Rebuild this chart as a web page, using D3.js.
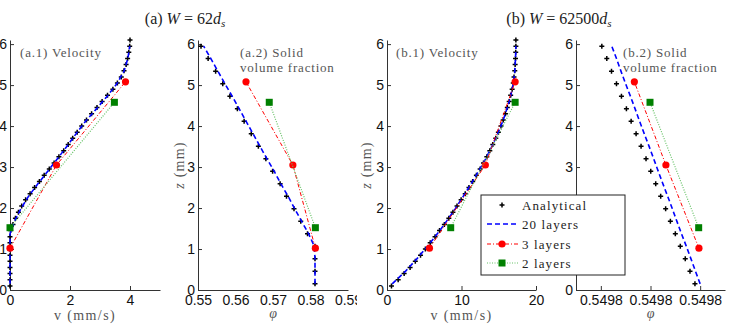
<!DOCTYPE html>
<html>
<head>
<meta charset="utf-8">
<script src="https://cdn.jsdelivr.net/npm/d3@7"></script>
<style>
  body { margin: 0; background: #fff; }
  .tick text { font-family: "Liberation Sans", Arial, sans-serif; font-size: 14px; fill: #111; }
  .serif { font-family: "Liberation Serif", "DejaVu Serif", serif; }
</style>
</head>
<body>
<script>
// heights (mm)
const zTicks = [0, 1, 2, 3, 4, 5, 6];
const zDense = [0.1, 0.25, 0.4, 0.55, 0.7, 0.85, 1.0, 1.15, 1.3, 1.45, 1.6, 1.75, 1.9, 2.05, 2.2, 2.35,
  2.5, 2.65, 2.8, 2.95, 3.1, 3.25, 3.4, 3.55, 3.7, 3.85, 4.0, 4.15, 4.3, 4.45, 4.6, 4.75, 4.9,
  5.05, 5.2, 5.35, 5.5, 5.65, 5.8, 5.95, 6.1];
const z20 = [0.15, 0.46, 0.76, 1.07, 1.37, 1.68, 1.98, 2.29, 2.59, 2.9, 3.2, 3.51, 3.81, 4.12,
  4.42, 4.73, 5.03, 5.34, 5.65, 5.95];
const z3 = [1.02, 3.05, 5.08];
const z2 = [1.52, 4.58];

// (a) W = 62 ds
const vTicksA = [0, 2, 4];
const vAnaA = [0, 0, 0, 0, 0, 0, 0, 0, 0, 0.02, 0.1, 0.18, 0.28, 0.39, 0.52, 0.67, 0.82, 0.98, 1.14,
  1.31, 1.47, 1.63, 1.79, 1.94, 2.09, 2.24, 2.39, 2.55, 2.72, 2.9, 3.07, 3.25, 3.43, 3.58, 3.71,
  3.8, 3.87, 3.92, 3.96, 3.99, 4.0];
const v20A = [0, 0, 0, 0, 0, 0.15, 0.36, 0.62, 0.93, 1.26, 1.58, 1.9, 2.2, 2.52, 2.88, 3.24,
  3.56, 3.8, 3.93, 3.99];
const v3A = [0, 1.55, 3.85];
const v2A = [0, 3.48];
const phiTicksA = [0.55, 0.56, 0.57, 0.58, 0.59];
const phiAnaA = [0.5812, 0.5812, 0.5812, 0.5812, 0.5792, 0.5774, 0.5756, 0.5736, 0.5719, 0.5699,
  0.5681, 0.5661, 0.5642, 0.5623, 0.5605, 0.5585, 0.5566, 0.5547, 0.5527, 0.5508];
const phi20A = [0.5812, 0.5812, 0.5812, 0.5810, 0.5795, 0.5776, 0.5758, 0.5740, 0.5721, 0.5703,
  0.5684, 0.5665, 0.5647, 0.5628, 0.5610, 0.5591, 0.5572, 0.5553, 0.5534, 0.5515];
const phi3A = [0.5813, 0.5753, 0.5628];
const phi2A = [0.5813, 0.5690];

// (b) W = 62500 ds
const vTicksB = [0, 10, 20];
const vAnaB = [0.6, 1.5, 2.3, 3.1, 3.8, 4.5, 5.15, 5.8, 6.45, 7.05, 7.7, 8.3, 8.85, 9.4, 9.95, 10.5,
  11.0, 11.5, 12.0, 12.5, 12.95, 13.4, 13.8, 14.2, 14.6, 14.95, 15.3, 15.6, 15.9, 16.15, 16.4,
  16.6, 16.8, 16.95, 17.05, 17.15, 17.2, 17.25, 17.28, 17.3, 17.3];
const v20B = [0.7, 2.5, 4.0, 5.45, 6.75, 8.0, 9.15, 10.25, 11.3, 12.3, 13.25, 14.1, 14.85, 15.55,
  16.1, 16.6, 16.95, 17.15, 17.25, 17.3];
const v3B = [5.7, 13.2, 17.2];
const v2B = [8.55, 17.2];
const phiTicksB = [0.54977, 0.54979, 0.54981];
const phiAnaB = [0.5498079, 0.5498059, 0.5498040, 0.5498020, 0.5498000, 0.5497980, 0.5497961,
  0.5497941, 0.5497921, 0.5497901, 0.5497882, 0.5497862, 0.5497842, 0.5497822, 0.5497803,
  0.5497783, 0.5497763, 0.5497743, 0.5497724, 0.5497704];
const phi20B = [0.5498100, 0.5498081, 0.5498063, 0.5498044, 0.5498025, 0.5498006, 0.5497988,
  0.5497969, 0.5497950, 0.5497931, 0.5497913, 0.5497894, 0.5497875, 0.5497856, 0.5497838,
  0.5497819, 0.5497800, 0.5497781, 0.5497763, 0.5497744];
const phi3B = [0.5498095, 0.5497962, 0.5497835];
const phi2B = [0.5498094, 0.5497898];

const legendLabels = ['Analytical', '20 layers', '3 layers', '2 layers'];

const BLUE = '#0000ff', RED = '#ff0000', GREEN = '#008000', GREEN_LINE = '#66c266';

const svg = d3.select('body').append('svg')
  .attr('width', 732).attr('height', 330);

svg.append('defs').append('clipPath').attr('id', 'clipA2')
  .append('rect').attr('x', 150).attr('y', 0).attr('width', 207).attr('height', 330);

const y = d3.scaleLinear().domain([0, 6.1]).range([290, 40]);
const pts = (xs, zs) => xs.map((v, i) => [v, zs[i]]);
const plusPath = 'M-2.5,0H2.5M0,-2.5V2.5';

function drawPanel(p) {
  const x = d3.scaleLinear().domain(p.domain).range(p.range);
  const g = svg.append('g');

  const xa = g.append('g')
    .attr('transform', 'translate(0,290)')
    .call(d3.axisBottom(x).tickValues(p.ticks).tickFormat(p.fmt)
      .tickSizeInner(-4).tickSizeOuter(0).tickPadding(5));
  if (p.clip) xa.attr('clip-path', `url(#${p.clip})`);
  g.append('g')
    .attr('transform', `translate(${p.range[0]},0)`)
    .call(d3.axisLeft(y).tickValues(zTicks).tickFormat(d3.format('d'))
      .tickSizeInner(-4).tickSizeOuter(0).tickPadding(3));
  g.selectAll('.domain, .tick line').attr('stroke', '#333');

  const line = d3.line().x(d => x(d[0])).y(d => y(d[1]));

  // analytical
  g.selectAll('path.ana').data(pts(p.ana, p.anaZ)).enter()
    .append('path').attr('class', 'ana')
    .attr('d', plusPath)
    .attr('transform', d => `translate(${x(d[0])},${y(d[1])})`)
    .attr('stroke', '#000').attr('stroke-width', 1.5);

  // 20 layers
  g.append('path').datum(pts(p.l20, z20))
    .attr('d', line).attr('fill', 'none')
    .attr('stroke', BLUE).attr('stroke-width', 1.6).attr('stroke-dasharray', '5,3');

  // 3 layers
  g.append('path').datum(pts(p.l3, z3))
    .attr('d', line).attr('fill', 'none')
    .attr('stroke', RED).attr('stroke-width', 1).attr('stroke-dasharray', '4,2,1,2');
  g.selectAll('circle.l3').data(pts(p.l3, z3)).enter()
    .append('circle').attr('class', 'l3')
    .attr('cx', d => x(d[0])).attr('cy', d => y(d[1])).attr('r', 3.6)
    .attr('fill', RED);

  // 2 layers
  g.append('path').datum(pts(p.l2, z2))
    .attr('d', line).attr('fill', 'none')
    .attr('stroke', GREEN_LINE).attr('stroke-width', 1.2).attr('stroke-dasharray', '1,1.5');
  g.selectAll('rect.l2').data(pts(p.l2, z2)).enter()
    .append('rect').attr('class', 'l2')
    .attr('x', d => x(d[0]) - 3.5).attr('y', d => y(d[1]) - 3.5)
    .attr('width', 7).attr('height', 7)
    .attr('fill', GREEN);

  // panel note
  const note = g.append('text').attr('class', 'serif')
    .attr('x', p.noteX).attr('y', 57)
    .attr('font-size', 13).attr('letter-spacing', 0.8).attr('fill', '#555');
  p.note.forEach((t, i) => note.append('tspan')
    .attr('x', p.noteX).attr('dy', i ? 15 : 0).text(t));

  // x label
  const mid = (p.range[0] + p.range[1]) / 2;
  if (p.xLabel === 'phi') {
    g.append('text').attr('class', 'serif')
      .attr('x', mid).attr('y', 318).attr('text-anchor', 'middle')
      .attr('font-size', 14).attr('font-style', 'italic').attr('fill', '#555')
      .text('φ');
  } else {
    g.append('text').attr('class', 'serif')
      .attr('x', mid).attr('y', 320).attr('text-anchor', 'middle')
      .attr('font-size', 14).attr('letter-spacing', 1.4).attr('fill', '#555')
      .text(p.xLabel);
  }

  if (p.yLabelX) {
    const yl = g.append('text').attr('class', 'serif')
      .attr('transform', `translate(${p.yLabelX},165) rotate(-90)`)
      .attr('text-anchor', 'middle').attr('font-size', 14)
      .attr('letter-spacing', 1.2).attr('fill', '#555');
    yl.append('tspan').attr('font-style', 'italic').text('z');
    yl.append('tspan').text(' (mm)');
  }
}

drawPanel({ domain: [0, 5], range: [10, 160], ticks: vTicksA, fmt: d3.format('d'),
  ana: vAnaA, anaZ: zDense, l20: v20A, l3: v3A, l2: v2A,
  note: ['(a.1) Velocity'], noteX: 20, xLabel: 'v (mm/s)' });
drawPanel({ domain: [0.55, 0.59], range: [198, 348], ticks: phiTicksA, fmt: d3.format('.2f'),
  ana: phiAnaA, anaZ: z20, l20: phi20A, l3: phi3A, l2: phi2A, clip: 'clipA2',
  note: ['(a.2) Solid', 'volume fraction'], noteX: 240, xLabel: 'phi', yLabelX: 184 });
drawPanel({ domain: [0, 20], range: [387, 536], ticks: vTicksB, fmt: d3.format('d'),
  ana: vAnaB, anaZ: zDense, l20: v20B, l3: v3B, l2: v2B,
  note: ['(b.1) Velocity'], noteX: 396, xLabel: 'v (mm/s)', yLabelX: 371 });
drawPanel({ domain: [0.54976, 0.54982], range: [576, 725], ticks: phiTicksB, fmt: d3.format('.4f'),
  ana: phiAnaB, anaZ: z20, l20: phi20B, l3: phi3B, l2: phi2B,
  note: ['(b.2) Solid', 'volume fraction'], noteX: 623, xLabel: 'phi' });

// titles
function title(cx, label, w) {
  const t = svg.append('text').attr('class', 'serif')
    .attr('x', cx).attr('y', 24).attr('text-anchor', 'middle')
    .attr('font-size', 16).attr('fill', '#222');
  t.append('tspan').text(label + ' ');
  t.append('tspan').attr('font-style', 'italic').text('W');
  t.append('tspan').text(' = ' + w);
  t.append('tspan').attr('font-style', 'italic').text('d');
  t.append('tspan').attr('font-style', 'italic').attr('font-size', 11).attr('dy', 3).text('s');
}
title(185, '(a)', '62');
title(559, '(b)', '62500');

// legend
const lg = svg.append('g').attr('transform', 'translate(481,195)');
lg.append('rect').attr('width', 144).attr('height', 80)
  .attr('fill', '#fff').attr('stroke', '#222').attr('stroke-width', 1);
const rowY = [10, 29, 49, 68];
legendLabels.forEach((lab, i) => {
  const ry = rowY[i];
  if (i === 0) {
    lg.append('path').attr('d', plusPath).attr('transform', `translate(21,${ry})`)
      .attr('stroke', '#000').attr('stroke-width', 1.5);
  } else {
    const col = [null, BLUE, RED, GREEN_LINE][i];
    const dash = [null, '5,3', '4,2,1,2', '1,1.5'][i];
    lg.append('line').attr('x1', 6).attr('x2', 37).attr('y1', ry).attr('y2', ry)
      .attr('stroke', col).attr('stroke-width', i === 1 ? 1.6 : 1.1).attr('stroke-dasharray', dash);
    if (i === 2) lg.append('circle').attr('cx', 21).attr('cy', ry).attr('r', 3.6).attr('fill', RED);
    if (i === 3) lg.append('rect').attr('x', 17.5).attr('y', ry - 3.5)
      .attr('width', 7).attr('height', 7).attr('fill', GREEN);
  }
  lg.append('text').attr('class', 'serif')
    .attr('x', 41).attr('y', ry + 4.5)
    .attr('font-size', 13).attr('letter-spacing', 1.1).attr('fill', '#222')
    .text(lab);
});
</script>
</body>
</html>
